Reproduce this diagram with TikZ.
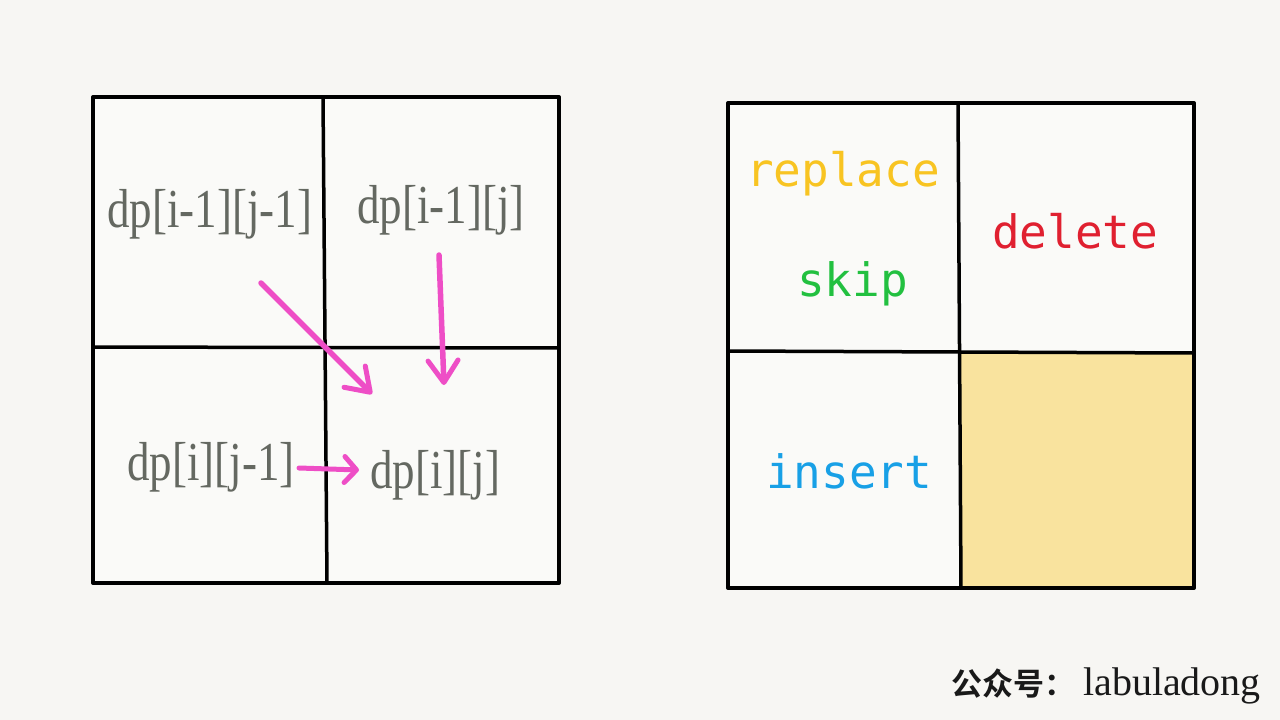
\documentclass[tikz,border=0pt]{standalone}
\usepackage{fontspec}
\usepackage{graphicx}
\newfontfamily\monofont{DejaVu Sans Mono}
\newfontfamily\cjkfont{Noto Sans CJK SC Bold}
\newfontfamily\dpfont{Liberation Serif}
\usetikzlibrary{arrows.meta}
\definecolor{bgcol}{HTML}{F7F6F3}
\definecolor{cellcol}{HTML}{FAFAF8}
\definecolor{dpgray}{HTML}{646861}
\definecolor{arrowpink}{HTML}{EE4EC6}
\definecolor{fillyellow}{HTML}{F9E39E}
\definecolor{repcol}{HTML}{F8C422}
\definecolor{delcol}{HTML}{E02030}
\definecolor{skipcol}{HTML}{22C040}
\definecolor{inscol}{HTML}{18A0E6}
\newcommand{\tallbox}[1]{\scalebox{1}[1.22]{#1}}
\tikzset{
  gridline/.style={line width=4pt, line cap=round, line join=round},
  innerline/.style={line width=3.5pt},
  dplabel/.style={inner sep=0pt, anchor=base west, text=dpgray, font=\dpfont\fontsize{45}{50}\selectfont},
  oplabel/.style={inner sep=0pt, anchor=base west, font=\monofont\fontsize{46}{50}\selectfont},
  pinkarrow/.style={draw=arrowpink, line width=5.5pt, line cap=round,
    -{Straight Barb[length=22pt,width=30pt,line width=5pt,round]}},
  smallarrow/.style={draw=arrowpink, line width=5pt, line cap=round,
    -{Straight Barb[length=12pt,width=26pt,line width=5pt,round]}}
}
\begin{document}
\begin{tikzpicture}[x=1pt,y=-1pt]
\fill[bgcol] (0,0) rectangle (1280,720);
\useasboundingbox (0,0) rectangle (1280,720);
% left grid
\fill[cellcol] (93,97) rectangle (559,583);
\draw[innerline] (323,97) -- (327,583);
\draw[innerline] (93,347) -- (559,348);
\draw[gridline] (93,97) rectangle (559,583);
% right grid
\fill[cellcol] (728,103) rectangle (1194,588);
\fill[fillyellow] (960,352) rectangle (1194,588);
\draw[innerline] (958,103) -- (961,588);
\draw[innerline] (728,351) -- (1194,353);
\draw[gridline] (728,103) rectangle (1194,588);
% dp labels
\node[dplabel] (d11) at (107,227) {\tallbox{dp[i-1][j-1]}};
\node[dplabel] (d10) at (357,223) {\tallbox{dp[i-1][j]}};
\node[dplabel] (d01) at (127,480) {\tallbox{dp[i][j-1]}};
\node[dplabel] (d00) at (370,488) {\tallbox{dp[i][j]}};
% arrow endpoints
\coordinate (a1s) at (261,283);
\coordinate (a1e) at (372,394);
\coordinate (a2s) at (439,255);
\coordinate (a2e) at (444,385);
\coordinate (a3s) at (299,468);
\coordinate (a3e) at (359,470);
\draw[pinkarrow] (a1s) -- (a1e);
\draw[pinkarrow] (a2s) -- (a2e);
\draw[smallarrow] (a3s) -- (a3e);
% op labels
\node[oplabel, text=repcol] (rep) at (746,186) {replace};
\node[oplabel, text=delcol] (del) at (992,248) {delete};
\node[oplabel, text=skipcol] (skp) at (797,296) {skip};
\node[oplabel, text=inscol] (ins) at (766,488) {insert};
% watermark
\node[inner sep=0pt, anchor=base west, text=black!90, font=\cjkfont\fontsize{31}{34}\selectfont] (wm1) at (951,695) {公众号：};
\node[inner sep=0pt, anchor=base west, text=black!90, font=\dpfont\fontsize{40}{44}\selectfont] (wm2) at (1083,695) {labuladong};
\end{tikzpicture}
\end{document}
